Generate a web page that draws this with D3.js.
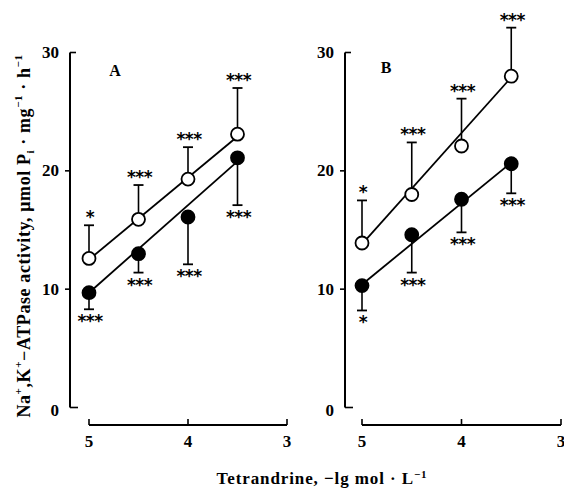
<!DOCTYPE html>
<html>
<head>
<meta charset="utf-8">
<script src="https://cdn.jsdelivr.net/npm/d3@7"></script>
<style>
  html, body { margin: 0; padding: 0; background: #fff; }
  svg { display: block; }
</style>
</head>
<body>
<svg id="chart"></svg>
<script>
// x positions: -lg mol/L
const doses = [5, 4.5, 4, 3.5];
const xTicks = [5, 4, 3];
const yTicks = [0, 10, 20, 30];

// panel A
const aOpenMean = [12.6, 15.9, 19.3, 23.1];
const aOpenSd = [2.8, 2.9, 2.7, 3.9];
const aOpenStars = ['*', '***', '***', '***'];
const aFilledMean = [9.7, 13.0, 16.1, 21.1];
const aFilledSd = [1.4, 1.6, 4.0, 4.0];
const aFilledStars = ['***', '***', '***', '***'];
const aOpenFit = [12.5, 22.9];
const aFilledFit = [9.7, 20.8];

// panel B
const bOpenMean = [13.9, 18.0, 22.1, 28.0];
const bOpenSd = [3.6, 4.4, 4.0, 4.1];
const bOpenStars = ['*', '***', '***', '***'];
const bFilledMean = [10.3, 14.6, 17.6, 20.6];
const bFilledSd = [2.1, 3.2, 2.8, 2.5];
const bFilledStars = ['*', '***', '***', '***'];
const bOpenFit = [13.8, 27.9];
const bFilledFit = [10.4, 20.7];

const W = 564, H = 493;
const FONT = '"Liberation Serif", "Times New Roman", serif';
const svg = d3.select('#chart').attr('width', W).attr('height', H).attr('viewBox', [0, 0, W, H]);

function drawPanel(cfg) {
  const g = svg.append('g');
  const x = d3.scaleLinear([5, 3], [cfg.x0, cfg.x1]);
  const y = d3.scaleLinear([0, 30], [407.5, 52.5]);

  // y axis: line with ticks
  g.append('line').attr('x1', cfg.yAxisX).attr('x2', cfg.yAxisX).attr('y1', y(30)).attr('y2', y(0))
    .attr('stroke', '#000').attr('stroke-width', 2);
  yTicks.forEach((t) => {
    const inner = t === 0 || t === 30;
    g.append('line')
      .attr('x1', cfg.yAxisX).attr('x2', cfg.yAxisX + (inner ? (t === 0 ? 8 : 6) : -5))
      .attr('y1', y(t)).attr('y2', y(t))
      .attr('stroke', '#000').attr('stroke-width', 1.6);
    g.append('text')
      .attr('x', cfg.yAxisX - 11).attr('y', y(t) + (t === 0 ? 3 : 0))
      .attr('text-anchor', 'end').attr('dominant-baseline', 'central')
      .attr('font-family', FONT).attr('font-weight', 'bold').attr('font-size', 17)
      .text(t);
  });

  // x axis: separate line with upward ticks
  const xAxisY = 425;
  g.append('line').attr('x1', x(5)).attr('x2', x(3)).attr('y1', xAxisY).attr('y2', xAxisY)
    .attr('stroke', '#000').attr('stroke-width', 1.8);
  xTicks.forEach((t) => {
    g.append('line').attr('x1', x(t)).attr('x2', x(t)).attr('y1', xAxisY).attr('y2', xAxisY - 6)
      .attr('stroke', '#000').attr('stroke-width', 1.6);
    g.append('text')
      .attr('x', x(t)).attr('y', 441)
      .attr('text-anchor', 'middle').attr('dominant-baseline', 'central')
      .attr('font-family', FONT).attr('font-weight', 'bold').attr('font-size', 17)
      .text(t);
  });

  // panel letter
  g.append('text').attr('x', cfg.labelX).attr('y', cfg.labelY)
    .attr('text-anchor', 'middle').attr('dominant-baseline', 'central')
    .attr('font-family', FONT).attr('font-weight', 'bold').attr('font-size', 16)
    .text(cfg.label);

  // fitted lines
  [cfg.openFit, cfg.filledFit].forEach((fit) => {
    g.append('line')
      .attr('x1', x(doses[0])).attr('y1', y(fit[0]))
      .attr('x2', x(doses[3])).attr('y2', y(fit[1]))
      .attr('stroke', '#000').attr('stroke-width', 1.8);
  });

  // series: open (error up), filled (error down)
  const series = [
    { mean: cfg.openMean, sd: cfg.openSd, stars: cfg.openStars, dir: -1, fill: '#fff' },
    { mean: cfg.filledMean, sd: cfg.filledSd, stars: cfg.filledStars, dir: 1, fill: '#000' },
  ];
  series.forEach((s) => {
    const pts = doses.map((d, i) => ({ d, m: s.mean[i], e: s.mean[i] - s.dir * s.sd[i], star: s.stars[i] }));
    const sg = g.append('g');
    sg.selectAll('.bar').data(pts).join('line')
      .attr('x1', (p) => x(p.d)).attr('x2', (p) => x(p.d))
      .attr('y1', (p) => y(p.m)).attr('y2', (p) => y(p.e))
      .attr('stroke', '#000').attr('stroke-width', 1.6);
    sg.selectAll('.cap').data(pts).join('line')
      .attr('x1', (p) => x(p.d) - 5).attr('x2', (p) => x(p.d) + 5)
      .attr('y1', (p) => y(p.e)).attr('y2', (p) => y(p.e))
      .attr('stroke', '#000').attr('stroke-width', 1.8);
    sg.selectAll('circle').data(pts).join('circle')
      .attr('cx', (p) => x(p.d)).attr('cy', (p) => y(p.m))
      .attr('r', 6.5)
      .attr('fill', s.fill).attr('stroke', '#000').attr('stroke-width', 1.8);
    sg.selectAll('text').data(pts).join('text')
      .attr('x', (p) => x(p.d) + 1).attr('y', (p) => y(p.e) + (s.dir < 0 ? -2 : 18))
      .attr('text-anchor', 'middle')
      .attr('font-family', '"DejaVu Sans", sans-serif').attr('font-weight', 'bold').attr('font-size', 17)
      .attr('letter-spacing', -0.5)
      .text((p) => p.star);
  });
}

drawPanel({
  x0: 89, x1: 287, yAxisX: 70, label: 'A', labelX: 115, labelY: 70,
  openMean: aOpenMean, openSd: aOpenSd, openStars: aOpenStars, openFit: aOpenFit,
  filledMean: aFilledMean, filledSd: aFilledSd, filledStars: aFilledStars, filledFit: aFilledFit,
});
drawPanel({
  x0: 362, x1: 561, yAxisX: 345, label: 'B', labelX: 386, labelY: 67,
  openMean: bOpenMean, openSd: bOpenSd, openStars: bOpenStars, openFit: bOpenFit,
  filledMean: bFilledMean, filledSd: bFilledSd, filledStars: bFilledStars, filledFit: bFilledFit,
});

// y title
const yt = svg.append('text')
  .attr('transform', 'translate(24,236) rotate(-90)')
  .attr('text-anchor', 'middle').attr('dominant-baseline', 'central')
  .attr('font-family', FONT).attr('font-weight', 'bold').attr('font-size', 18)
  .attr('letter-spacing', 0.6);
[['Na', 0], ['+', 1], [',K', 0], ['+', 1], ['\u2212ATPase activity, \u03bcmol P', 0], ['i', -1],
 [' \u00b7 mg', 0], ['\u22121', 1], [' \u00b7 h', 0], ['\u22121', 1]].forEach(([t, s]) => {
  yt.append('tspan')
    .attr('font-size', s ? 11 : 18)
    .attr('baseline-shift', s > 0 ? 'super' : s < 0 ? 'sub' : null)
    .text(t);
});

// x title
const xt = svg.append('text')
  .attr('x', 322).attr('y', 484)
  .attr('text-anchor', 'middle')
  .attr('font-family', FONT).attr('font-weight', 'bold').attr('font-size', 17)
  .attr('letter-spacing', 0.9);
xt.append('tspan').text('Tetrandrine, \u2212lg mol \u00b7 L');
xt.append('tspan').attr('font-size', 11).attr('baseline-shift', 'super').text('\u22121');
</script>
</body>
</html>
